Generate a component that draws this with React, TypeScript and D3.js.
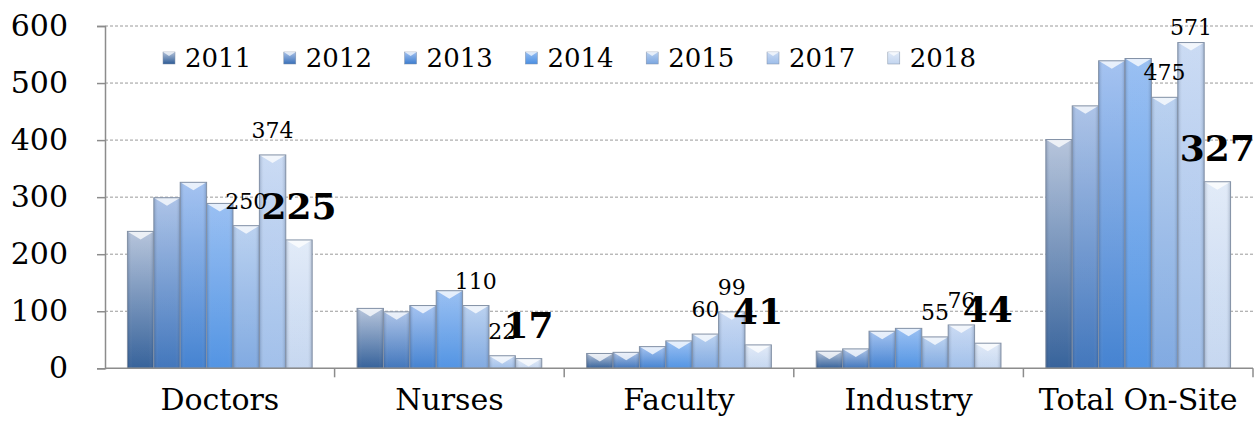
import React, { useEffect, useRef } from 'react';
import * as d3 from 'd3';

const categories = ['Doctors', 'Nurses', 'Faculty', 'Industry', 'Total On-Site'];
const years = ['2011', '2012', '2013', '2014', '2015', '2017', '2018'];

// values per year, in category order
const v2011 = [240, 105, 26, 30, 401];
const v2012 = [299, 99, 28, 34, 460];
const v2013 = [326, 110, 38, 65, 539];
const v2014 = [289, 136, 48, 70, 543];
const v2015 = [250, 110, 60, 55, 475];
const v2017 = [374, 22, 99, 76, 571];
const v2018 = [225, 17, 41, 44, 327];

const yTicks = [0, 100, 200, 300, 400, 500, 600];

// top / bottom colours of each year's gradient
const topColors = ['#b3c2da', '#a9c1e7', '#a0c0f0', '#95bdf2', '#b7cfef', '#c8d9f3', '#e0eaf8'];
const bottomColors = ['#2d5b96', '#3970b9', '#3c7dcf', '#4a8fe2', '#7ba6e0', '#9dbde9', '#c3d5ef'];

// which series carry value labels
const labelStyle: Record<string, string> = { '2015': 'normal', '2017': 'normal', '2018': 'bold' };

const App = () => {
  const ref = useRef<SVGSVGElement>(null);

  useEffect(() => {
    const svg = d3.select(ref.current);
    svg.selectAll('*').remove();

    const width = 1255;
    const height = 435;
    const margin = { top: 26, right: 2, bottom: 66.7, left: 105 };
    const font = "'DejaVu Serif', serif";

    const series = [v2011, v2012, v2013, v2014, v2015, v2017, v2018];
    const data = years.map((yr, i) => ({ year: yr, values: series[i] }));

    const x0 = d3.scaleBand()
      .domain(categories)
      .range([margin.left, width - margin.right])
      .padding(0);

    const x1 = d3.scaleBand()
      .domain(years)
      .range([0, x0.bandwidth()])
      .paddingInner(0)
      .paddingOuter(0.85);

    const y = d3.scaleLinear()
      .domain([0, 600])
      .range([height - margin.bottom, margin.top]);

    // gradients
    const defs = svg.append('defs');
    years.forEach((yr, i) => {
      const g = defs.append('linearGradient')
        .attr('id', `grad${yr}`)
        .attr('x1', 0).attr('y1', 0).attr('x2', 0).attr('y2', 1);
      g.append('stop').attr('offset', '0%').attr('stop-color', topColors[i]);
      g.append('stop').attr('offset', '100%').attr('stop-color', bottomColors[i]);
    });
    const side = defs.append('linearGradient')
      .attr('id', 'side')
      .attr('x1', 0).attr('y1', 0).attr('x2', 1).attr('y2', 0);
    side.append('stop').attr('offset', '0%').attr('stop-color', '#1c3050').attr('stop-opacity', 0.25);
    side.append('stop').attr('offset', '18%').attr('stop-color', '#ffffff').attr('stop-opacity', 0.05);
    side.append('stop').attr('offset', '82%').attr('stop-color', '#ffffff').attr('stop-opacity', 0.05);
    side.append('stop').attr('offset', '100%').attr('stop-color', '#1c3050').attr('stop-opacity', 0.25);

    // gridlines
    svg.append('g')
      .selectAll('line')
      .data(yTicks.filter(t => t > 0))
      .enter().append('line')
      .attr('x1', margin.left)
      .attr('x2', width - margin.right)
      .attr('y1', d => y(d))
      .attr('y2', d => y(d))
      .attr('stroke', '#9a9a9a')
      .attr('stroke-width', 1)
      .attr('stroke-dasharray', '3,2');

    // bars
    const groups = svg.append('g')
      .selectAll('g')
      .data(data)
      .enter().append('g');

    groups.each(function (d) {
      const g = d3.select(this);
      d.values.forEach((v, ci) => {
        const bx = x0(categories[ci])! + x1(d.year)!;
        const bw = x1.bandwidth();
        const top = y(v);
        const bh = y(0) - top;
        g.append('rect')
          .attr('x', bx).attr('y', top)
          .attr('width', bw).attr('height', bh)
          .attr('fill', `url(#grad${d.year})`);
        g.append('rect')
          .attr('x', bx).attr('y', top)
          .attr('width', bw).attr('height', bh)
          .attr('fill', 'url(#side)');
        // bevel chevron at top
        const bev = Math.min(8, bh);
        g.append('path')
          .attr('d', `M${bx},${top}L${bx + bw},${top}L${bx + bw / 2},${top + bev}Z`)
          .attr('fill', '#ffffff')
          .attr('fill-opacity', 0.75);
        g.append('rect')
          .attr('x', bx).attr('y', top)
          .attr('width', bw).attr('height', bh)
          .attr('fill', 'none')
          .attr('stroke', '#8391a6')
          .attr('stroke-width', 1);
      });
    });

    // value labels
    data.filter(d => labelStyle[d.year]).forEach(d => {
      const bold = labelStyle[d.year] === 'bold';
      svg.append('g')
        .selectAll('text')
        .data(d.values)
        .enter().append('text')
        .attr('x', (v, ci) => x0(categories[ci])! + x1(d.year)! + x1.bandwidth() / 2)
        .attr('y', v => Math.max(y(v) - (bold ? 21 : 17), 35))
        .attr('text-anchor', 'middle')
        .style('font-family', font)
        .style('font-size', bold ? '36px' : '22px')
        .style('font-weight', bold ? 'bold' : 'normal')
        .attr('fill', '#000')
        .text(v => v);
    });

    // y axis
    const yAxis = svg.append('g')
      .attr('transform', `translate(${margin.left},0)`)
      .call(d3.axisLeft(y).tickValues(yTicks).tickSize(8).tickPadding(29));
    yAxis.select('.domain').attr('stroke', '#8c8c8c').attr('stroke-width', 1.5);
    yAxis.selectAll('.tick line').attr('stroke', '#8c8c8c').attr('stroke-width', 1.5);
    yAxis.selectAll('text')
      .style('font-family', font)
      .style('font-size', '30px')
      .attr('fill', '#000');

    // x axis
    const xg = svg.append('g');
    xg.append('line')
      .attr('x1', margin.left).attr('x2', width - margin.right)
      .attr('y1', y(0)).attr('y2', y(0))
      .attr('stroke', '#8c8c8c').attr('stroke-width', 1.5);
    xg.selectAll('.sep')
      .data(categories)
      .enter().append('line')
      .attr('x1', d => x0(d)! + x0.bandwidth())
      .attr('x2', d => x0(d)! + x0.bandwidth())
      .attr('y1', y(0)).attr('y2', y(0) + 9)
      .attr('stroke', '#8c8c8c').attr('stroke-width', 1.5);
    xg.selectAll('.cat')
      .data(categories)
      .enter().append('text')
      .attr('x', d => x0(d)! + x0.bandwidth() / 2)
      .attr('y', 410)
      .attr('text-anchor', 'middle')
      .style('font-family', font)
      .style('font-size', '30px')
      .attr('fill', '#000')
      .text(d => d);

    // legend
    const legend = svg.append('g')
      .selectAll('g')
      .data(years)
      .enter().append('g')
      .attr('transform', (d, i) => `translate(${163 + i * 120.8},52)`);
    legend.append('rect')
      .attr('width', 12).attr('height', 12)
      .attr('fill', d => `url(#grad${d})`)
      .attr('stroke', '#8391a6').attr('stroke-width', 0.5);
    legend.append('path')
      .attr('d', 'M0,0L12,0L6,4Z')
      .attr('fill', '#fff').attr('fill-opacity', 0.7);
    legend.append('text')
      .attr('x', 22)
      .attr('y', 15)
      .style('font-family', font)
      .style('font-size', '26px')
      .attr('fill', '#000')
      .text(d => d);
  }, []);

  return (
    <svg
      ref={ref}
      width={1255}
      height={435}
      style={{ position: 'absolute', left: 0, top: 0, background: '#fff' }}
    />
  );
};

export default App;
